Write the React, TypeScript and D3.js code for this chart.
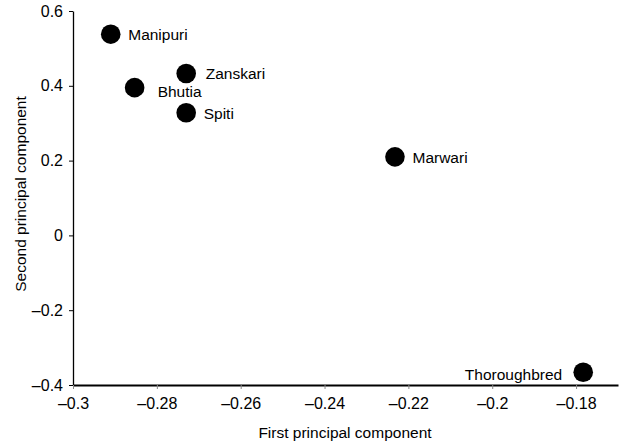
import React, { useEffect, useRef } from "react";
import * as d3 from "d3";

// breeds and their PCA scores
const breeds = ["Manipuri", "Bhutia", "Zanskari", "Spiti", "Marwari", "Thoroughbred"];
const pc1 = [-0.291, -0.2853, -0.273, -0.273, -0.2232, -0.1783];
const pc2 = [0.538, 0.395, 0.433, 0.328, 0.21, -0.366];
// label to the left of the point?
const labelLeft = [false, false, false, false, false, true];

const xTicks = [-0.3, -0.28, -0.26, -0.24, -0.22, -0.2, -0.18];
const yTicks = [-0.4, -0.2, 0, 0.2, 0.4, 0.6];

const fmt = (d: number) => String(d).replace("-", "\u2013");

const W = 619;
const H = 445;

const App: React.FC = () => {
  const svgRef = useRef<SVGSVGElement>(null);

  useEffect(() => {
    if (!svgRef.current) return;
    const svg = d3.select(svgRef.current);
    svg.selectAll("*").remove();

    const font = "'Liberation Sans', Arial, Helvetica, sans-serif";

    const x = d3.scaleLinear().domain([-0.3, -0.17]).range([73, 618]);
    const y = d3.scaleLinear().domain([-0.4, 0.6]).range([385, 11]);

    // y axis
    const yAxis = svg
      .append("g")
      .attr("transform", `translate(${x(-0.3)},0)`)
      .call(
        d3
          .axisLeft(y)
          .tickValues(yTicks)
          .tickSize(4)
          .tickSizeOuter(0)
          .tickPadding(6)
          .tickFormat((d) => fmt(d as number))
      );
    yAxis.select(".domain").attr("stroke-width", 1.3);
    yAxis.selectAll("text").style("font-size", "16px").style("font-family", font).attr("fill", "#000");

    // x axis
    const xAxis = svg
      .append("g")
      .attr("transform", `translate(0,${y(-0.4)})`)
      .call(
        d3
          .axisBottom(x)
          .tickValues(xTicks)
          .tickSize(4)
          .tickSizeOuter(0)
          .tickPadding(9)
          .tickFormat((d) => fmt(d as number))
      );
    xAxis.select(".domain").attr("stroke-width", 1.8);
    xAxis.selectAll(".tick line").attr("stroke", "#888");
    xAxis.selectAll("text").style("font-size", "16px").style("font-family", font).attr("fill", "#000");

    // axis titles
    svg
      .append("text")
      .attr("x", 345)
      .attr("y", 438)
      .attr("text-anchor", "middle")
      .style("font-size", "15.5px")
      .style("font-family", font)
      .text("First principal component");

    svg
      .append("text")
      .attr("transform", `translate(26,${(y(0.6) + y(-0.4)) / 2 - 4}) rotate(-90)`)
      .attr("text-anchor", "middle")
      .style("font-size", "15.5px")
      .style("font-family", font)
      .text("Second principal component");

    // points
    const data = breeds.map((name, i) => ({ name, x: pc1[i], y: pc2[i], left: labelLeft[i] }));

    svg
      .append("g")
      .selectAll("circle")
      .data(data)
      .join("circle")
      .attr("cx", (d) => x(d.x))
      .attr("cy", (d) => y(d.y))
      .attr("r", 9.8)
      .attr("fill", "#000");

    const dxFor = (d: { name: string; left: boolean }) =>
      d.left ? -21 : d.name === "Bhutia" ? 23 : d.name === "Zanskari" ? 19.5 : 17.5;
    const dyFor = (d: { name: string }) =>
      d.name === "Bhutia" ? 9 : d.name === "Thoroughbred" ? 8 : 6;

    svg
      .append("g")
      .selectAll("text")
      .data(data)
      .join("text")
      .attr("x", (d) => x(d.x) + dxFor(d))
      .attr("y", (d) => y(d.y) + dyFor(d))
      .attr("text-anchor", (d) => (d.left ? "end" : "start"))
      .style("font-size", "15.5px")
      .style("font-family", font)
      .text((d) => d.name);
  }, []);

  return (
    <svg
      ref={svgRef}
      width={W}
      height={H}
      style={{ position: "absolute", left: 0, top: 0, background: "#fff" }}
    />
  );
};

export default App;
